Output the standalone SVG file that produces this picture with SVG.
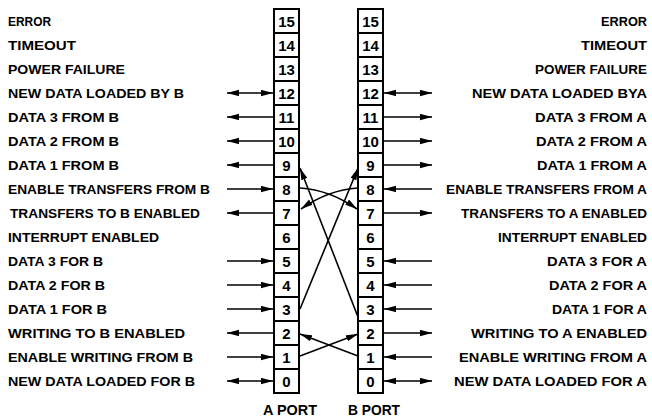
<svg xmlns="http://www.w3.org/2000/svg" width="652" height="418" viewBox="0 0 652 418">
<style>
.bg{fill:#fff}
.cell{fill:#fff;stroke:#000;stroke-width:2}
.num{font-family:"Liberation Sans",Arial,sans-serif;font-weight:700;font-size:15px;text-anchor:middle;fill:#000}
.lbl{font-family:"Liberation Sans",Arial,sans-serif;font-weight:700;font-size:13.5px;fill:#000}
.r{text-anchor:end}
.w{stroke:#000;stroke-width:1.6;fill:none}
.o{marker-end:url(#ah)}
.d{marker-start:url(#ah);marker-end:url(#ah)}
.cap{font-family:"Liberation Sans",Arial,sans-serif;font-weight:700;font-size:14px;text-anchor:middle;fill:#000}
</style>
<defs>
<marker id="ah" markerUnits="userSpaceOnUse" markerWidth="13" markerHeight="7" refX="12" refY="3.2" orient="auto-start-reverse">
<path d="M0,0 L12,3.2 L0,6.4 z" fill="#000"/>
</marker>
</defs>
<rect class="bg" x="0" y="0" width="652" height="418"/>

<g id="labels-a">
<text class="lbl" x="8" y="26" textLength="43" lengthAdjust="spacingAndGlyphs">ERROR</text>
<text class="lbl" x="8" y="50" textLength="68" lengthAdjust="spacingAndGlyphs">TIMEOUT</text>
<text class="lbl" x="8" y="74" textLength="117" lengthAdjust="spacingAndGlyphs">POWER FAILURE</text>
<text class="lbl" x="8" y="98" textLength="176" lengthAdjust="spacingAndGlyphs">NEW DATA LOADED BY B</text>
<text class="lbl" x="8" y="122" textLength="111" lengthAdjust="spacingAndGlyphs">DATA 3 FROM B</text>
<text class="lbl" x="8" y="146" textLength="111" lengthAdjust="spacingAndGlyphs">DATA 2 FROM B</text>
<text class="lbl" x="8" y="170" textLength="111" lengthAdjust="spacingAndGlyphs">DATA 1 FROM B</text>
<text class="lbl" x="8" y="194" textLength="202" lengthAdjust="spacingAndGlyphs">ENABLE TRANSFERS FROM B</text>
<text class="lbl" x="10" y="218" textLength="190" lengthAdjust="spacingAndGlyphs">TRANSFERS TO B ENABLED</text>
<text class="lbl" x="8" y="242" textLength="151" lengthAdjust="spacingAndGlyphs">INTERRUPT ENABLED</text>
<text class="lbl" x="8" y="266" textLength="95" lengthAdjust="spacingAndGlyphs">DATA 3 FOR B</text>
<text class="lbl" x="8" y="290" textLength="97" lengthAdjust="spacingAndGlyphs">DATA 2 FOR B</text>
<text class="lbl" x="8" y="314" textLength="99" lengthAdjust="spacingAndGlyphs">DATA 1 FOR B</text>
<text class="lbl" x="8" y="338" textLength="177" lengthAdjust="spacingAndGlyphs">WRITING TO B ENABLED</text>
<text class="lbl" x="8" y="362" textLength="185" lengthAdjust="spacingAndGlyphs">ENABLE WRITING FROM B</text>
<text class="lbl" x="8" y="386" textLength="187" lengthAdjust="spacingAndGlyphs">NEW DATA LOADED FOR B</text>
</g>

<g id="labels-b">
<text class="lbl r" x="647" y="26" textLength="46" lengthAdjust="spacingAndGlyphs">ERROR</text>
<text class="lbl r" x="647" y="50" textLength="66" lengthAdjust="spacingAndGlyphs">TIMEOUT</text>
<text class="lbl r" x="647" y="74" textLength="112" lengthAdjust="spacingAndGlyphs">POWER FAILURE</text>
<text class="lbl r" x="647" y="98" textLength="175" lengthAdjust="spacingAndGlyphs">NEW DATA LOADED BYA</text>
<text class="lbl r" x="647" y="122" textLength="112" lengthAdjust="spacingAndGlyphs">DATA 3 FROM A</text>
<text class="lbl r" x="647" y="146" textLength="111" lengthAdjust="spacingAndGlyphs">DATA 2 FROM A</text>
<text class="lbl r" x="647" y="170" textLength="110" lengthAdjust="spacingAndGlyphs">DATA 1 FROM A</text>
<text class="lbl r" x="647" y="194" textLength="201" lengthAdjust="spacingAndGlyphs">ENABLE TRANSFERS FROM A</text>
<text class="lbl r" x="647" y="218" textLength="186" lengthAdjust="spacingAndGlyphs">TRANSFERS TO A ENABLED</text>
<text class="lbl r" x="647" y="242" textLength="149" lengthAdjust="spacingAndGlyphs">INTERRUPT ENABLED</text>
<text class="lbl r" x="647" y="266" textLength="100" lengthAdjust="spacingAndGlyphs">DATA 3 FOR A</text>
<text class="lbl r" x="647" y="290" textLength="98" lengthAdjust="spacingAndGlyphs">DATA 2 FOR A</text>
<text class="lbl r" x="647" y="314" textLength="95" lengthAdjust="spacingAndGlyphs">DATA 1 FOR A</text>
<text class="lbl r" x="647" y="338" textLength="176" lengthAdjust="spacingAndGlyphs">WRITING TO A ENABLED</text>
<text class="lbl r" x="647" y="362" textLength="188" lengthAdjust="spacingAndGlyphs">ENABLE WRITING FROM A</text>
<text class="lbl r" x="647" y="386" textLength="193" lengthAdjust="spacingAndGlyphs">NEW DATA LOADED FOR A</text>
</g>

<g id="port-a">
<g id="a15"><rect class="cell" x="274" y="9" width="25" height="24"/><text class="num" x="286.5" y="26.5">15</text></g>
<g id="a14"><rect class="cell" x="274" y="33" width="25" height="24"/><text class="num" x="286.5" y="50.5">14</text></g>
<g id="a13"><rect class="cell" x="274" y="57" width="25" height="24"/><text class="num" x="286.5" y="74.5">13</text></g>
<g id="a12"><rect class="cell" x="274" y="81" width="25" height="24"/><text class="num" x="286.5" y="98.5">12</text></g>
<g id="a11"><rect class="cell" x="274" y="105" width="25" height="24"/><text class="num" x="286.5" y="122.5">11</text></g>
<g id="a10"><rect class="cell" x="274" y="129" width="25" height="24"/><text class="num" x="286.5" y="146.5">10</text></g>
<g id="a9"><rect class="cell" x="274" y="153" width="25" height="24"/><text class="num" x="286.5" y="170.5">9</text></g>
<g id="a8"><rect class="cell" x="274" y="177" width="25" height="24"/><text class="num" x="286.5" y="194.5">8</text></g>
<g id="a7"><rect class="cell" x="274" y="201" width="25" height="24"/><text class="num" x="286.5" y="218.5">7</text></g>
<g id="a6"><rect class="cell" x="274" y="225" width="25" height="24"/><text class="num" x="286.5" y="242.5">6</text></g>
<g id="a5"><rect class="cell" x="274" y="249" width="25" height="24"/><text class="num" x="286.5" y="266.5">5</text></g>
<g id="a4"><rect class="cell" x="274" y="273" width="25" height="24"/><text class="num" x="286.5" y="290.5">4</text></g>
<g id="a3"><rect class="cell" x="274" y="297" width="25" height="24"/><text class="num" x="286.5" y="314.5">3</text></g>
<g id="a2"><rect class="cell" x="274" y="321" width="25" height="24"/><text class="num" x="286.5" y="338.5">2</text></g>
<g id="a1"><rect class="cell" x="274" y="345" width="25" height="24"/><text class="num" x="286.5" y="362.5">1</text></g>
<g id="a0"><rect class="cell" x="274" y="369" width="25" height="24"/><text class="num" x="286.5" y="386.5">0</text></g>
</g>

<g id="port-b">
<g id="b15"><rect class="cell" x="358" y="9" width="25" height="24"/><text class="num" x="370.5" y="26.5">15</text></g>
<g id="b14"><rect class="cell" x="358" y="33" width="25" height="24"/><text class="num" x="370.5" y="50.5">14</text></g>
<g id="b13"><rect class="cell" x="358" y="57" width="25" height="24"/><text class="num" x="370.5" y="74.5">13</text></g>
<g id="b12"><rect class="cell" x="358" y="81" width="25" height="24"/><text class="num" x="370.5" y="98.5">12</text></g>
<g id="b11"><rect class="cell" x="358" y="105" width="25" height="24"/><text class="num" x="370.5" y="122.5">11</text></g>
<g id="b10"><rect class="cell" x="358" y="129" width="25" height="24"/><text class="num" x="370.5" y="146.5">10</text></g>
<g id="b9"><rect class="cell" x="358" y="153" width="25" height="24"/><text class="num" x="370.5" y="170.5">9</text></g>
<g id="b8"><rect class="cell" x="358" y="177" width="25" height="24"/><text class="num" x="370.5" y="194.5">8</text></g>
<g id="b7"><rect class="cell" x="358" y="201" width="25" height="24"/><text class="num" x="370.5" y="218.5">7</text></g>
<g id="b6"><rect class="cell" x="358" y="225" width="25" height="24"/><text class="num" x="370.5" y="242.5">6</text></g>
<g id="b5"><rect class="cell" x="358" y="249" width="25" height="24"/><text class="num" x="370.5" y="266.5">5</text></g>
<g id="b4"><rect class="cell" x="358" y="273" width="25" height="24"/><text class="num" x="370.5" y="290.5">4</text></g>
<g id="b3"><rect class="cell" x="358" y="297" width="25" height="24"/><text class="num" x="370.5" y="314.5">3</text></g>
<g id="b2"><rect class="cell" x="358" y="321" width="25" height="24"/><text class="num" x="370.5" y="338.5">2</text></g>
<g id="b1"><rect class="cell" x="358" y="345" width="25" height="24"/><text class="num" x="370.5" y="362.5">1</text></g>
<g id="b0"><rect class="cell" x="358" y="369" width="25" height="24"/><text class="num" x="370.5" y="386.5">0</text></g>
</g>

<g id="captions">
<text class="cap" x="290" y="415" textLength="54" lengthAdjust="spacingAndGlyphs">A PORT</text>
<text class="cap" x="374" y="415" textLength="52" lengthAdjust="spacingAndGlyphs">B PORT</text>
</g>

<g id="connectors">
<!-- A port side -->
<path class="w d" d="M227,93 H273"/>
<path class="w o" d="M273,117 H227"/>
<path class="w o" d="M273,141 H227"/>
<path class="w o" d="M273,165 H227"/>
<path class="w o" d="M227,189 H273"/>
<path class="w o" d="M273,213 H227"/>
<path class="w o" d="M227,261 H273"/>
<path class="w o" d="M227,285 H273"/>
<path class="w o" d="M227,309 H273"/>
<path class="w o" d="M273,333 H227"/>
<path class="w o" d="M227,357 H273"/>
<path class="w d" d="M227,381 H273"/>
<!-- B port side -->
<path class="w d" d="M384,93 H432"/>
<path class="w o" d="M384,117 H432"/>
<path class="w o" d="M384,141 H432"/>
<path class="w o" d="M384,165 H432"/>
<path class="w o" d="M432,189 H384"/>
<path class="w o" d="M384,213 H432"/>
<path class="w o" d="M432,261 H384"/>
<path class="w o" d="M432,285 H384"/>
<path class="w o" d="M432,309 H384"/>
<path class="w o" d="M384,333 H432"/>
<path class="w o" d="M432,357 H384"/>
<path class="w d" d="M384,381 H432"/>
<!-- crossings -->
<path class="w o" d="M358,317 L300,168"/>
<path class="w o" d="M300,309 L358,168"/>
<path class="w o" d="M300,188 Q330,190 357,209"/>
<path class="w o" d="M358,188 Q328,190 301,209"/>
<path class="w o" d="M300,356 L358,334"/>
<path class="w o" d="M358,356 L300,334"/>
</g>
</svg>
